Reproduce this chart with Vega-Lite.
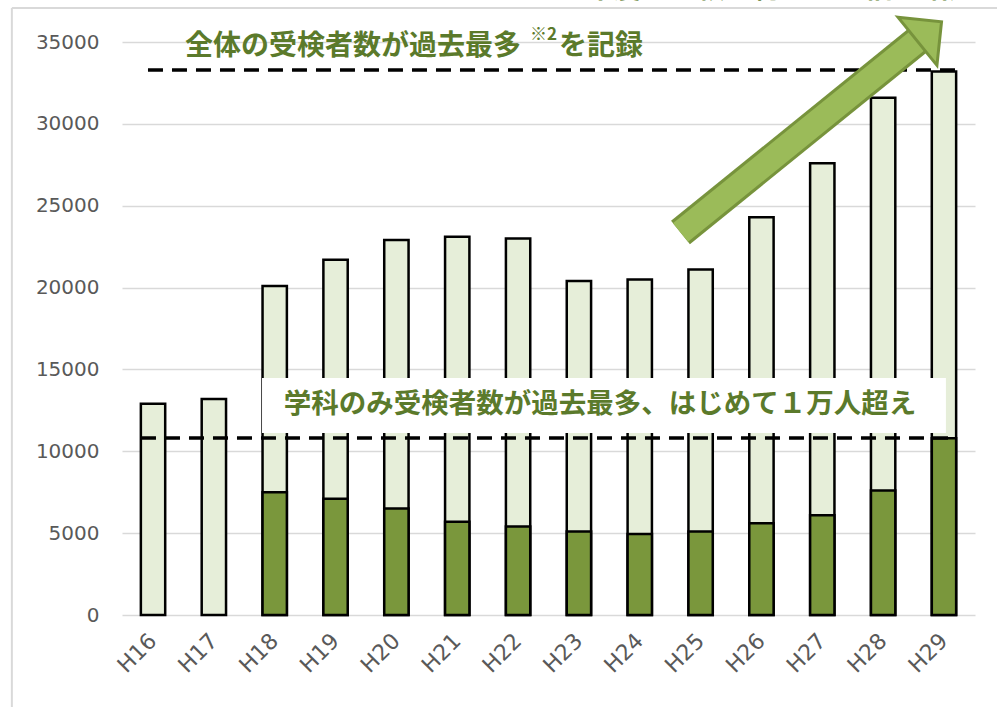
{
  "$schema": "https://vega.github.io/schema/vega-lite/v6.json",
  "width": 853,
  "height": 573,
  "autosize": {"type": "none"},
  "padding": {"left": 122, "top": 42, "right": 22, "bottom": 92},
  "background": "white",
  "config": {
    "view": {"stroke": null},
    "axisY": {"labelFont": "DejaVu Sans", "labelFontSize": 20, "labelColor": "#595959", "grid": true, "gridColor": "#d9d9d9", "gridWidth": 1.5, "domain": false, "ticks": false, "tickSize": 0, "labelPadding": 23, "title": null},
    "axisX": {"labelAngle": -45, "labelFont": "DejaVu Sans", "labelFontSize": 22, "labelColor": "#595959", "domain": false, "ticks": false, "tickSize": 0, "labelPadding": 22, "title": null, "labelAlign": "right", "labelBaseline": "middle"}
  },
  "datasets": {
    "bars": [
      {"year": "H16", "total": 12900, "subject": 0},
      {"year": "H17", "total": 13200, "subject": 0},
      {"year": "H18", "total": 20100, "subject": 7500},
      {"year": "H19", "total": 21700, "subject": 7100},
      {"year": "H20", "total": 22900, "subject": 6500},
      {"year": "H21", "total": 23100, "subject": 5700},
      {"year": "H22", "total": 23000, "subject": 5400},
      {"year": "H23", "total": 20400, "subject": 5100},
      {"year": "H24", "total": 20500, "subject": 4950},
      {"year": "H25", "total": 21100, "subject": 5100},
      {"year": "H26", "total": 24300, "subject": 5600},
      {"year": "H27", "total": 27600, "subject": 6100},
      {"year": "H28", "total": 31600, "subject": 7600},
      {"year": "H29", "total": 33200, "subject": 10800}
    ],
    "border": [
      {"x": -2.32, "y": 37077, "x2": 13.87, "y2": 37077},
      {"x": -2.32, "y": 37077, "x2": -2.32, "y2": -5620}
    ],
    "dashes": [
      {"x": -0.083, "x2": 13.31, "y": 33290},
      {"x": -0.198, "x2": 13.13, "y": 10812}
    ],
    "box": [{"x": 1.791, "x2": 13.03, "y": 14476, "y2": 11117}],
    "arrowBody": [{"x": 8.668, "y": 23364, "x2": 12.555, "y2": 35061}],
    "arrowHead": [{"x": 12.76, "y": 35641}],
    "bigText": [
      {"x": 0.525, "y": 34695, "text": "全体の受検者数が過去最多"},
      {"x": 6.672, "y": 34695, "text": "を記録"}
    ],
    "supText": [{"x": 6.195, "y": 35427, "text": "※2"}],
    "midText": [{"x": 7.345, "y": 12827, "text": "学科のみ受検者数が過去最多、はじめて１万人超え"}],
    "cutText": [{"x": 13.54, "y": 37660, "text": "Ｈ２３年度と比較し約１．６倍に増加"}]
  },
  "layer": [
    {
      "data": {"name": "bars"},
      "encoding": {
        "x": {"field": "year", "type": "ordinal", "sort": null, "scale": {"paddingInner": 0.6, "paddingOuter": 0.31}}
      },
      "layer": [
        {
          "mark": {"type": "bar", "fill": "#e6eed9", "stroke": "black", "strokeWidth": 2.5},
          "encoding": {
            "y": {"field": "total", "type": "quantitative", "scale": {"domain": [0, 35000], "nice": false}, "axis": {"values": [0, 5000, 10000, 15000, 20000, 25000, 30000, 35000], "format": "d", "title": null}}
          }
        },
        {
          "transform": [{"filter": "datum.subject > 0"}],
          "mark": {"type": "bar", "fill": "#7a973c", "stroke": "black", "strokeWidth": 2.5},
          "encoding": {
            "y": {"field": "subject", "type": "quantitative", "scale": {"domain": [0, 35000], "nice": false}}
          }
        }
      ]
    },
    {
      "layer": [
        {
          "data": {"name": "border"},
          "mark": {"type": "rule", "stroke": "#d9d9d9", "strokeWidth": 2},
          "encoding": {
            "x": {"field": "x", "type": "quantitative", "scale": {"domain": [-0.51, 13.508], "nice": false, "zero": false}, "axis": null},
            "x2": {"field": "x2"},
            "y": {"field": "y", "type": "quantitative", "scale": {"domain": [0, 35000], "nice": false}},
            "y2": {"field": "y2"}
          }
        },
        {
          "data": {"name": "box"},
          "mark": {"type": "rect", "fill": "white"},
          "encoding": {
            "x": {"field": "x", "type": "quantitative", "scale": {"domain": [-0.51, 13.508], "nice": false, "zero": false}, "axis": null},
            "x2": {"field": "x2"},
            "y": {"field": "y", "type": "quantitative", "scale": {"domain": [0, 35000], "nice": false}},
            "y2": {"field": "y2"}
          }
        },
        {
          "data": {"name": "dashes"},
          "mark": {"type": "rule", "stroke": "black", "strokeWidth": 3.5, "strokeDash": [15, 9]},
          "encoding": {
            "x": {"field": "x", "type": "quantitative", "scale": {"domain": [-0.51, 13.508], "nice": false, "zero": false}, "axis": null},
            "x2": {"field": "x2"},
            "y": {"field": "y", "type": "quantitative", "scale": {"domain": [0, 35000], "nice": false}}
          }
        },
        {
          "data": {"name": "arrowBody"},
          "mark": {"type": "rule", "stroke": "#77933c", "strokeWidth": 30, "strokeCap": "butt"},
          "encoding": {
            "x": {"field": "x", "type": "quantitative", "scale": {"domain": [-0.51, 13.508], "nice": false, "zero": false}, "axis": null},
            "x2": {"field": "x2"},
            "y": {"field": "y", "type": "quantitative", "scale": {"domain": [0, 35000], "nice": false}},
            "y2": {"field": "y2"}
          }
        },
        {
          "data": {"name": "arrowBody"},
          "mark": {"type": "rule", "stroke": "#9bbb59", "strokeWidth": 24, "strokeCap": "butt"},
          "encoding": {
            "x": {"field": "x", "type": "quantitative", "scale": {"domain": [-0.51, 13.508], "nice": false, "zero": false}, "axis": null},
            "x2": {"field": "x2"},
            "y": {"field": "y", "type": "quantitative", "scale": {"domain": [0, 35000], "nice": false}},
            "y2": {"field": "y2"}
          }
        },
        {
          "data": {"name": "arrowHead"},
          "mark": {"type": "point", "shape": "M-1,0.5L0,-0.5L1,0.5Z", "size": 3844, "angle": 51, "filled": true, "fill": "#9bbb59", "stroke": "#77933c", "strokeWidth": 3, "opacity": 1, "fillOpacity": 1},
          "encoding": {
            "x": {"field": "x", "type": "quantitative", "scale": {"domain": [-0.51, 13.508], "nice": false, "zero": false}, "axis": null},
            "y": {"field": "y", "type": "quantitative", "scale": {"domain": [0, 35000], "nice": false}}
          }
        },
        {
          "data": {"name": "bigText"},
          "mark": {"type": "text", "font": "Noto Sans CJK JP", "fontWeight": "bold", "fontSize": 28, "fill": "#5b7a2b", "align": "left", "baseline": "middle"},
          "encoding": {
            "x": {"field": "x", "type": "quantitative", "scale": {"domain": [-0.51, 13.508], "nice": false, "zero": false}, "axis": null},
            "y": {"field": "y", "type": "quantitative", "scale": {"domain": [0, 35000], "nice": false}},
            "text": {"field": "text"}
          }
        },
        {
          "data": {"name": "supText"},
          "mark": {"type": "text", "font": "Noto Sans CJK JP", "fontWeight": "bold", "fontSize": 17, "fill": "#5b7a2b", "align": "left", "baseline": "middle"},
          "encoding": {
            "x": {"field": "x", "type": "quantitative", "scale": {"domain": [-0.51, 13.508], "nice": false, "zero": false}, "axis": null},
            "y": {"field": "y", "type": "quantitative", "scale": {"domain": [0, 35000], "nice": false}},
            "text": {"field": "text"}
          }
        },
        {
          "data": {"name": "midText"},
          "mark": {"type": "text", "font": "Noto Sans CJK JP", "fontWeight": "bold", "fontSize": 27.5, "fill": "#5b7a2b", "align": "center", "baseline": "middle"},
          "encoding": {
            "x": {"field": "x", "type": "quantitative", "scale": {"domain": [-0.51, 13.508], "nice": false, "zero": false}, "axis": null},
            "y": {"field": "y", "type": "quantitative", "scale": {"domain": [0, 35000], "nice": false}},
            "text": {"field": "text"}
          }
        },
        {
          "data": {"name": "cutText"},
          "mark": {"type": "text", "font": "Noto Sans CJK JP", "fontWeight": "bold", "fontSize": 28, "fill": "#5b7a2b", "align": "right", "baseline": "alphabetic"},
          "encoding": {
            "x": {"field": "x", "type": "quantitative", "scale": {"domain": [-0.51, 13.508], "nice": false, "zero": false}, "axis": null},
            "y": {"field": "y", "type": "quantitative", "scale": {"domain": [0, 35000], "nice": false}},
            "text": {"field": "text"}
          }
        }
      ]
    }
  ],
  "resolve": {"scale": {"x": "independent"}}
}
